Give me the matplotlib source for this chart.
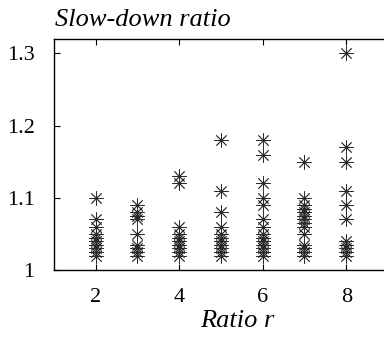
import numpy as np
import matplotlib
matplotlib.use('Agg')
from matplotlib import pyplot as plt

# slow-down ratio of each run, grouped by ratio r
ratio_r = [2, 3, 4, 5, 6, 7, 8]
slowdown = {
    2: [1.10, 1.07, 1.06, 1.05, 1.045, 1.04, 1.035, 1.03, 1.025, 1.02],
    3: [1.09, 1.08, 1.075, 1.07, 1.05, 1.035, 1.03, 1.025, 1.02],
    4: [1.13, 1.12, 1.06, 1.05, 1.045, 1.04, 1.035, 1.03, 1.025, 1.02],
    5: [1.18, 1.11, 1.08, 1.06, 1.05, 1.045, 1.04, 1.035, 1.03, 1.025, 1.02],
    6: [1.18, 1.16, 1.12, 1.10, 1.09, 1.07, 1.06, 1.05, 1.045, 1.04, 1.035, 1.03, 1.025, 1.02],
    7: [1.15, 1.10, 1.09, 1.085, 1.08, 1.075, 1.07, 1.065, 1.06, 1.05, 1.035, 1.03, 1.025, 1.02],
    8: [1.30, 1.17, 1.15, 1.11, 1.09, 1.07, 1.04, 1.035, 1.03, 1.025, 1.02],
}
x_ticks = [2, 4, 6, 8]
y_ticks = [1.0, 1.1, 1.2, 1.3]
y_ticklabels = ['1', '1.1', '1.2', '1.3']

plt.rcParams['font.family'] = ['Liberation Serif', 'DejaVu Serif']

fig = plt.figure(figsize=(3.84, 3.37), dpi=100)
ax = fig.add_axes([54 / 384, 67 / 337, 334 / 384, 231 / 337])

for r in ratio_r:
    ys = slowdown[r]
    ax.scatter([r] * len(ys), ys, marker=(8, 2, 0), s=95, color='#2a2a2a', linewidths=0.6, zorder=2)

ax.set_xlim(1, 9)
ax.set_ylim(1.0, 1.32)
ax.set_xticks(x_ticks)
ax.set_yticks(y_ticks)
ax.set_yticklabels(y_ticklabels)
ax.tick_params(direction='in', length=4, width=0.8, labelsize=16, top=True, right=False)
ax.tick_params(axis='x', pad=13)
ax.tick_params(axis='y', pad=14)
for s in ax.spines.values():
    s.set_linewidth(1.0)
# frame runs off the right edge, so no right border shows
ax.spines['right'].set_visible(False)

fig.text(55 / 384, 1 - 20 / 337, 'Slow-down ratio', fontsize=19, style='italic', ha='left', va='center')
fig.text(237 / 384, 1 - 321 / 337, 'Ratio r', fontsize=19, style='italic', ha='center', va='center')

fig.savefig('out.png', dpi=100)
